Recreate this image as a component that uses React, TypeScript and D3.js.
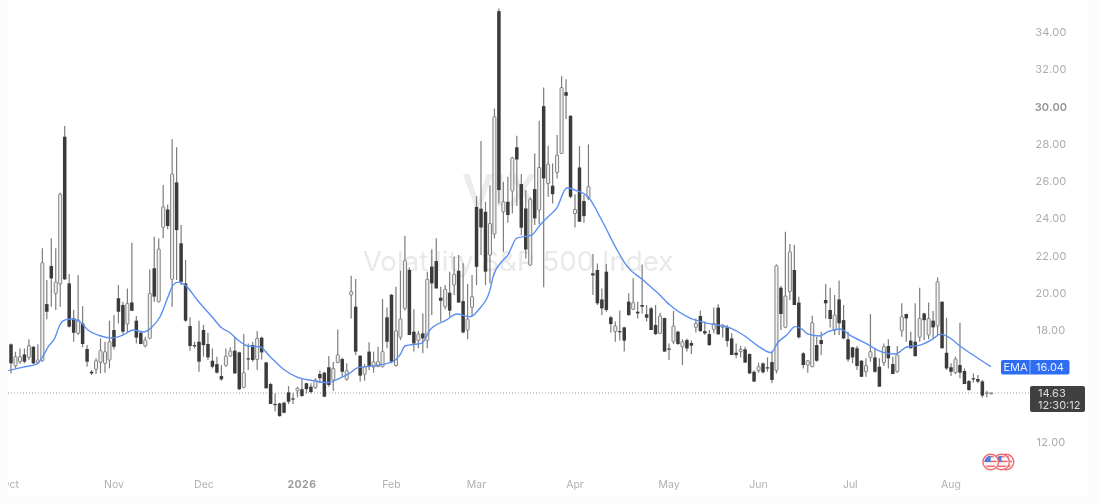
import React from "react";
import * as d3 from "d3";

const highs = [
  17.29,16.84,17.02,17.02,17.51,17.15,17.24,22.39,20.69,22.93,
  22.39,25.38,28.95,21.01,19.08,20.96,19.29,17.20,15.86,16.49,
  17.56,17.38,18.51,18.81,20.42,19.53,20.24,22.69,18.76,17.92,
  17.65,21.26,23.01,22.93,25.79,24.75,28.24,27.81,23.64,21.76,
  18.69,17.38,18.51,18.28,17.86,17.02,16.58,16.13,17.02,17.08,
  17.65,16.84,17.79,17.29,17.38,17.95,17.65,16.31,15.18,14.61,
  14.11,14.16,15.00,14.61,14.97,15.38,15.18,15.15,15.42,15.83,
  15.77,16.61,16.31,18.04,16.54,16.22,20.92,20.74,16.67,16.18,
  17.35,16.85,17.11,19.67,19.22,19.94,20.33,21.19,23.07,21.37,
  19.12,17.95,18.90,21.14,22.34,22.93,20.33,20.42,21.14,21.94,
  22.03,21.59,20.48,20.96,25.19,28.15,24.89,25.78,29.90,35.26,
  25.96,26.23,27.31,28.43,26.38,25.52,25.12,27.48,29.24,31.02,
  27.90,26.95,28.47,31.63,31.47,29.54,25.30,27.88,25.25,27.97,
  22.09,21.58,20.24,21.55,18.76,18.46,19.05,18.19,19.98,20.78,
  19.53,21.53,19.35,19.26,19.35,18.94,18.67,17.29,19.03,17.97,
  17.51,17.56,17.44,18.63,19.05,18.46,18.01,19.22,19.39,18.33,
  18.28,17.83,17.29,17.15,17.11,16.76,15.83,16.26,16.26,16.54,
  16.85,21.53,20.37,23.28,22.62,22.57,19.80,16.81,16.40,18.78,
  17.65,17.92,20.48,20.28,19.89,20.66,19.35,17.92,17.11,17.15,
  16.40,16.49,18.87,17.03,16.49,17.29,17.51,16.58,17.15,19.44,
  18.87,17.92,19.44,20.28,18.94,19.48,19.03,20.83,19.53,18.67,
  16.22,16.58,18.40,15.95,15.33,15.68,15.59,15.33,14.75,14.65,
];
const bodyTops = [
  17.24,16.58,16.58,16.70,17.17,17.11,16.40,21.62,19.40,21.44,
  20.58,25.30,28.38,20.51,18.63,18.54,18.36,16.99,15.77,16.36,
  16.90,16.84,17.38,18.01,19.71,19.35,19.44,19.49,18.51,17.86,
  17.47,19.97,21.32,22.35,24.62,24.48,26.38,25.93,22.66,20.51,
  18.22,17.20,17.38,18.01,17.26,16.36,16.18,15.54,16.61,16.88,
  16.90,16.81,15.72,16.49,17.20,17.56,17.60,16.27,15.11,14.04,
  14.07,14.11,14.66,14.34,14.88,14.83,15.15,14.97,15.33,15.65,
  15.72,16.01,15.95,16.67,16.45,15.83,20.07,19.26,16.63,16.04,
  16.85,16.31,16.31,16.85,18.69,19.90,17.97,18.60,21.73,21.23,
  17.92,17.79,17.83,20.73,21.41,21.71,19.74,20.19,20.01,21.00,
  21.19,19.56,18.60,19.80,24.62,24.52,24.35,23.73,29.45,35.12,
  24.89,24.89,27.25,27.81,25.84,24.53,25.03,25.57,26.73,30.02,
  26.91,25.75,27.39,31.02,30.77,29.50,24.48,26.73,24.93,25.70,
  21.05,21.23,19.65,21.14,18.69,18.22,17.95,18.15,19.53,19.47,
  18.99,19.35,18.85,19.17,18.28,18.76,18.65,17.02,18.22,17.92,
  17.38,17.47,17.31,18.37,18.76,17.95,17.79,18.37,19.21,18.26,
  18.15,17.56,16.79,16.97,16.97,16.72,15.77,16.04,16.22,16.01,
  16.29,21.46,20.28,19.83,22.21,21.23,19.48,16.76,16.36,18.40,
  17.20,17.47,19.62,19.08,18.81,19.65,18.54,17.51,17.08,17.03,
  16.36,16.10,16.85,16.54,16.04,17.11,17.15,16.18,16.67,18.72,
  18.87,17.44,17.38,18.63,18.90,18.63,18.51,20.60,19.53,16.79,
  16.01,16.45,16.13,15.81,15.27,15.42,15.38,15.25,14.65,14.63,
];
const bodyBottoms = [
  16.22,16.08,16.31,16.31,16.54,16.22,16.25,16.36,18.99,20.78,
  19.97,20.48,20.73,18.19,17.86,17.83,17.26,16.31,15.68,15.90,
  16.27,16.22,16.40,17.11,18.99,17.92,18.33,19.04,17.60,17.26,
  17.15,17.56,19.80,19.53,23.52,23.59,20.73,23.37,20.60,18.51,
  17.15,17.20,16.31,17.20,16.54,16.04,15.72,15.36,16.11,16.61,
  15.68,14.83,14.93,16.49,16.40,16.43,16.81,14.88,14.04,14.04,
  13.39,13.57,14.16,14.34,14.75,14.47,14.84,14.68,14.91,15.42,
  14.43,15.06,15.33,16.27,15.77,15.36,19.89,16.85,15.56,15.63,
  16.08,16.01,16.04,16.04,17.38,16.31,16.10,17.62,19.17,17.74,
  17.29,17.44,17.56,17.44,20.51,20.24,19.58,19.26,19.05,20.42,
  19.48,17.88,18.01,19.22,21.40,23.51,21.14,22.03,23.16,25.52,
  24.35,24.18,25.46,27.16,23.50,22.33,21.49,24.00,24.44,26.14,
  25.87,25.30,26.46,27.48,30.58,25.16,24.26,23.82,24.12,25.07,
  20.94,19.44,19.17,19.08,18.33,17.92,17.95,17.44,18.81,19.12,
  18.90,19.26,18.67,18.01,17.79,17.83,16.85,17.02,17.38,17.26,
  17.11,17.02,17.17,18.15,17.95,17.83,17.20,18.04,17.78,18.15,
  17.42,16.67,16.67,16.85,16.26,15.68,15.24,15.83,15.74,16.01,
  15.33,15.83,18.87,18.15,20.07,19.35,17.62,16.13,16.13,16.04,
  16.36,17.26,19.44,18.60,18.01,18.37,17.56,16.43,16.54,16.08,
  15.50,15.77,16.54,15.77,14.97,16.26,16.49,15.65,15.77,17.97,
  18.63,17.03,16.61,17.62,18.54,17.74,18.15,18.22,17.03,15.95,
  15.77,15.72,15.72,15.11,14.79,15.36,15.24,14.49,14.61,14.63,
];
const lows = [
  15.68,15.95,16.18,16.22,16.40,16.18,16.18,16.31,18.58,19.26,
  19.08,19.26,20.69,18.15,17.38,17.74,17.08,16.04,15.59,15.65,
  15.68,15.72,15.95,16.97,18.36,17.79,17.83,19.04,17.29,17.24,
  17.08,17.51,19.53,19.49,22.93,23.41,19.26,20.69,20.42,18.45,
  16.90,17.02,15.77,16.58,16.40,15.95,15.68,15.29,16.04,16.58,
  15.68,14.79,14.88,15.86,16.31,15.86,16.43,14.88,14.04,13.63,
  13.36,13.54,14.04,14.04,14.40,14.43,14.61,14.61,14.84,15.15,
  14.43,14.97,14.75,16.22,15.50,15.29,18.63,16.67,15.24,15.29,
  15.86,15.72,16.04,16.01,17.03,16.22,16.04,17.47,19.05,17.74,
  16.85,17.03,16.76,17.03,18.81,20.24,18.46,19.12,18.72,19.89,
  19.48,17.83,17.51,18.76,20.42,22.03,20.42,20.51,22.92,24.80,
  22.21,23.76,24.26,24.66,23.10,21.85,21.44,23.64,23.69,20.30,
  25.16,24.80,26.14,27.48,29.33,25.07,23.51,23.82,23.76,24.98,
  19.89,19.35,18.81,18.99,17.87,17.38,17.44,16.85,18.78,19.08,
  18.63,18.90,18.46,18.01,17.74,17.79,16.85,16.40,17.26,17.20,
  16.13,16.85,16.72,17.87,17.92,17.74,17.17,17.83,17.74,17.61,
  17.11,16.67,16.49,16.54,16.26,15.65,15.24,15.72,15.68,15.77,
  15.15,15.68,18.01,18.10,19.62,19.35,17.56,15.95,15.72,16.01,
  16.31,16.67,18.63,18.15,17.74,17.74,17.51,16.31,16.22,15.86,
  15.50,15.50,16.31,15.72,14.97,16.08,15.95,15.63,15.72,17.65,
  17.38,17.03,16.58,17.38,17.47,17.51,17.56,17.74,17.03,15.86,
  15.54,15.65,15.42,15.11,14.75,15.18,15.15,14.38,14.40,14.58,
];
const directions = (
  "DUUDUDUUDD" + "UUDDDUDDDU" + "UUUDDDUDDD" + "UUDUUDUDDD" + "DDDDDDDDUU" + "DDUDDUDDDD" +
  "DDDDUDDDUD" + "DDUUDUUDDU" + "DUUUDDUUUD" + "DUDUDDDUDU" + "DDUUDDDUUD" + "UDUDDDUDUD" +
  "UDUUDDUDDU" + "DDDDDUDDDU" + "DDDDDUDDUD" + "UDDUDDDUDU" + "DDDUDDDUDD" + "DUDUUDDDUU" +
  "DDDDUDDDDD" + "DUUDDUDDUU" + "DDDUDUDUDD" + "DUDDDDDDUU"
).split("");

const emaAt = [
  -0.6,2.7,5.7,6.9,8.3,9.8,10.9,12.1,13.6,15.4,17.2,19.9,22.5,25,27.3,29.5,31.5,33.3,35.1,36.2,37.3,38.9,
  41.6,44.9,47.1,48.9,51.2,52.9,55.6,57.9,60.8,63.8,67.5,70.5,73.5,75.7,77.5,80.9,85.3,86.9,88,91.8,93.6,
  97.3,99.6,102.5,104.8,107,107.7,109.6,111,113,116.3,118.2,120,121.9,124.2,126,128.9,132.3,135.3,137.6,
  141.2,144.5,147.2,151.7,155.4,160.6,163.6,166.6,169.8,171.4,173.3,175.2,176.7,178.1,180.7,182.5,185.2,
  187.4,191.2,194.5,197.5,200.1,203.1,206,207.6,209.8,212,214.6,218.9,
];
const emaValues = [
  15.83,16.02,16.18,16.51,17.10,17.58,18.28,18.55,18.60,18.45,18.01,17.70,17.58,17.74,18.01,17.90,18.17,18.72,19.80,20.42,20.58,20.42,
  19.62,18.72,18.12,17.86,17.38,17.15,17.11,16.58,15.92,15.50,15.29,15.18,15.43,15.70,15.99,16.08,16.31,16.67,17.15,17.31,18.01,
  18.55,18.87,18.72,19.19,20.15,20.87,21.67,22.03,22.94,23.10,23.64,24.09,24.55,25.64,25.52,25.16,23.75,22.35,21.44,
  20.69,19.99,19.35,18.65,18.38,18.12,17.74,17.20,16.80,17.37,17.74,18.19,18.06,17.79,17.69,17.92,18.06,
  17.74,17.26,16.84,16.72,17.10,17.20,17.53,17.79,17.58,17.15,16.72,16.04,
];

const priceTicks = [34, 32, 30, 28, 26, 24, 22, 20, 18, 12];
const monthLabels = ["Oct", "Nov", "Dec", "2026", "Feb", "Mar", "Apr", "May", "Jun", "Jul", "Aug"];
const monthAt = [-0.2, 23, 43.1, 65, 85, 104, 126, 147, 167, 187.5, 210];
const lastPrice = 14.63;
const lastEma = 16.04;
const countdown = "12:30:12";
const title = "Volatility S&P 500 Index";
const symbol = "VIX";

const W = 1099;
const H = 504;
const x = d3.scaleLinear().domain([0, 219]).range([11, 991.3]);
const y = d3.scaleLinear().domain([12, 34]).range([442, 32]);
const emaPath = d3
  .line<number>()
  .x((_, i) => x(emaAt[i]))
  .y((d) => y(d))
  .curve(d3.curveMonotoneX)(emaValues) as string;

const font = "Inter, 'Liberation Sans', sans-serif";
const DARK = "#3b3b3b";
const WICK = "#7c7c7c";
const UP_STROKE = "#7e7e7e";
const AXIS = "#adadad";

function Flag({ cx, cy, id }: { cx: number; cy: number; id: string }) {
  const stripes = d3.range(-6, 6, 2.4);
  return (
    <g>
      <clipPath id={id}>
        <circle cx={cx} cy={cy} r={6.2} />
      </clipPath>
      <circle cx={cx} cy={cy} r={7.8} fill="#fff" stroke="#f2686f" strokeWidth={1.4} />
      <g clipPath={`url(#${id})`}>
        <rect x={cx - 7} y={cy - 7} width={14} height={14} fill="#f4f4f8" />
        {stripes.map((s, i) =>
          i % 2 === 0 ? (
            <rect key={s} x={cx - 7} y={cy + s} width={14} height={1.3} fill="#ef5b60" />
          ) : null
        )}
        <rect x={cx - 7} y={cy - 7} width={7} height={7} fill="#4d7ed8" />
      </g>
    </g>
  );
}

export default function App() {
  return (
    <svg
      width={W}
      height={H}
      viewBox={`0 0 ${W} ${H}`}
      style={{ position: "absolute", left: 0, top: 0, background: "#fcfcfc" }}
    >
      <defs>
        <clipPath id="plot">
          <rect x={8} y={0} width={1080} height={496} />
        </clipPath>
        <filter id="soft" x="-5%" y="-5%" width="110%" height="110%">
          <feGaussianBlur stdDeviation={0.5} />
        </filter>
      </defs>
      <rect x={8} y={0} width={1080} height={496} fill="#fff" />
      <g filter="url(#soft)">
        <text x={500} y={206} textAnchor="middle" fontFamily={font} fontSize={44} fontWeight={600} fill="#ececec">
          {symbol}
        </text>
        <text x={518} y={271} textAnchor="middle" fontFamily={font} fontSize={27.7} fill="#e9e9e9">
          {title}
        </text>
        <line x1={8} x2={1030} y1={y(lastPrice)} y2={y(lastPrice)} stroke="#9a9a9a" strokeWidth={1} strokeDasharray="1 2" />
        <g clipPath="url(#plot)">
          {highs.map((h, i) => {
            const cx = x(i);
            const top = y(bodyTops[i]);
            const bottom = y(bodyBottoms[i]);
            const up = directions[i] === "U";
            return (
              <g key={i}>
                <line x1={cx} x2={cx} y1={y(h)} y2={y(lows[i])} stroke={WICK} strokeWidth={1.2} />
                {up ? (
                  <rect
                    x={cx - 1.5}
                    y={top}
                    width={3}
                    height={Math.max(bottom - top, 1)}
                    rx={0.5}
                    fill="#f2f2f2"
                    stroke={UP_STROKE}
                    strokeWidth={1}
                  />
                ) : (
                  <rect
                    x={cx - 1.75}
                    y={top}
                    width={3.5}
                    height={Math.max(bottom - top, 1.2)}
                    fill={DARK}
                  />
                )}
              </g>
            );
          })}
          <path d={emaPath} fill="none" stroke="#5b8ff2" strokeWidth={1.4} />
        </g>
        <g fontFamily={font} fontSize={11} fill={AXIS} letterSpacing={0.2}>
          {priceTicks.map((p) => (
            <text key={p} x={1051} y={y(p) + 4} textAnchor="middle" fontWeight={p === 30 ? 600 : 400} fill={p === 30 ? "#959595" : AXIS}>
              {p.toFixed(2)}
            </text>
          ))}
        </g>
        <g clipPath="url(#plot)" fontFamily={font} fontSize={10.5} fill="#b0b0b0" textAnchor="middle">
          {monthLabels.map((m, i) => (
            <text
              key={m}
              x={x(monthAt[i])}
              y={488}
              fontWeight={m === "2026" ? 700 : 400}
              fill={m === "2026" ? "#9b9b9b" : "#b0b0b0"}
              letterSpacing={m === "2026" ? 0.5 : 0}
            >
              {m}
            </text>
          ))}
        </g>
        <rect x={1001} y={360} width={68.5} height={14.5} rx={2} fill="#2d6cf2" />
        <line x1={1030} x2={1030} y1={360} y2={374.5} stroke="#a9c4fa" strokeWidth={0.8} />
        <text x={1015.5} y={371} textAnchor="middle" fontFamily={font} fontSize={11} fill="#e8f0ff">
          EMA
        </text>
        <text x={1050} y={371} textAnchor="middle" fontFamily={font} fontSize={11} fill="#e8f0ff">
          {lastEma.toFixed(2)}
        </text>
        <rect x={1030} y={386} width={55} height={26} rx={2} fill="#404040" />
        <text x={1038} y={397} fontFamily={font} fontSize={11} fill="#dddddd">
          {lastPrice.toFixed(2)}
        </text>
        <text x={1038} y={409} fontFamily={font} fontSize={11} fill="#dddddd">
          {countdown}
        </text>
        <Flag cx={1006} cy={462} id="flagC" />
        <Flag cx={1001.5} cy={462} id="flagB" />
        <Flag cx={990.7} cy={462} id="flagA" />
      </g>
    </svg>
  );
}
